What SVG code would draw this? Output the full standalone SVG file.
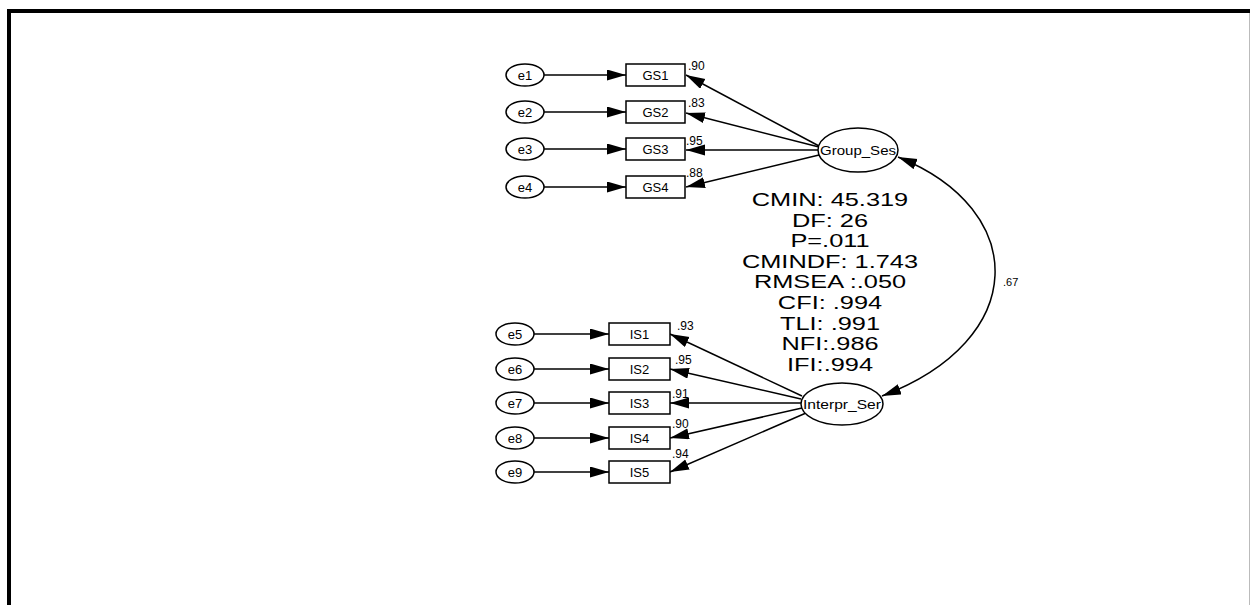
<svg xmlns="http://www.w3.org/2000/svg" width="1250" height="605" viewBox="0 0 1250 605">
<style>
.bg{fill:#fff}
.box{fill:#fff;stroke:#000;stroke-width:1.5}
.ell{fill:#fff;stroke:#000;stroke-width:1.5}
.lbl{font-family:"Liberation Sans",Arial,sans-serif;font-size:13px;fill:#000;text-anchor:middle;dominant-baseline:central}
.lat{font-family:"Liberation Sans",Arial,sans-serif;font-size:13px;fill:#000;text-anchor:middle;dominant-baseline:central}
.w{font-family:"Liberation Sans",Arial,sans-serif;font-size:12px;fill:#000}
.stat{font-family:"Liberation Sans",Arial,sans-serif;font-size:17.5px;fill:#000;text-anchor:middle}
.edge{fill:none;stroke:#000;stroke-width:1.5;marker-end:url(#ah)}
</style>
<defs>
<marker id="ah" markerUnits="userSpaceOnUse" markerWidth="22" markerHeight="12" refX="19" refY="5.5" orient="auto">
<path d="M0,0 L19,5.5 L0,11 z" fill="#000"/>
</marker>
<marker id="ah2" markerUnits="userSpaceOnUse" markerWidth="22" markerHeight="12" refX="19" refY="5.5" orient="auto-start-reverse">
<path d="M0,0 L19,5.5 L0,11 z" fill="#000"/>
</marker>
</defs>
<rect class="bg" x="0" y="0" width="1250" height="605"/>
<g id="frame">
<path d="M7,11 H1250" stroke="#000" stroke-width="4" fill="none"/>
<path d="M9,9 V605" stroke="#000" stroke-width="4" fill="none"/>
<path d="M1249.5,13 V605" stroke="#bbb" stroke-width="1" fill="none"/>
</g>
<g id="connectors">
<path class="edge" d="M544,75 H626"/>
<path class="edge" d="M544,112 H626"/>
<path class="edge" d="M544,149 H626"/>
<path class="edge" d="M544,187 H626"/>
<path class="edge" d="M819,146 L686,75"/>
<path class="edge" d="M819,147 L686,113"/>
<path class="edge" d="M818,150 H686"/>
<path class="edge" d="M819,155 L686,187"/>
<path class="edge" d="M534,334 H609"/>
<path class="edge" d="M534,369 H609"/>
<path class="edge" d="M534,403 H609"/>
<path class="edge" d="M534,438 H609"/>
<path class="edge" d="M534,472 H609"/>
<path class="edge" d="M802,396 L670,334"/>
<path class="edge" d="M801,399 L670,369"/>
<path class="edge" d="M801,403 H670"/>
<path class="edge" d="M802,408 L670,438"/>
<path class="edge" d="M806,413 L670,472"/>
<path d="M898,157 C1030,210 1030,340 882,396" fill="none" stroke="#000" stroke-width="1.5" marker-start="url(#ah2)" marker-end="url(#ah2)"/>
<text class="w" x="688" y="70">.90</text>
<text class="w" x="688" y="107">.83</text>
<text class="w" x="686" y="145">.95</text>
<text class="w" x="686" y="177">.88</text>
<text class="w" x="677" y="330">.93</text>
<text class="w" x="675" y="364">.95</text>
<text class="w" x="672" y="398">.91</text>
<text class="w" x="672" y="428">.90</text>
<text class="w" x="672" y="458">.94</text>
<text class="w" x="1003" y="286" style="font-size:11px">.67</text>
</g>
<g id="e1"><ellipse class="ell" cx="525" cy="75" rx="19" ry="11"/><text class="lbl" x="525" y="75">e1</text></g>
<g id="e2"><ellipse class="ell" cx="525" cy="112" rx="19" ry="11"/><text class="lbl" x="525" y="112">e2</text></g>
<g id="e3"><ellipse class="ell" cx="525" cy="149" rx="19" ry="11"/><text class="lbl" x="525" y="149">e3</text></g>
<g id="e4"><ellipse class="ell" cx="525" cy="187" rx="19" ry="11"/><text class="lbl" x="525" y="187">e4</text></g>
<g id="GS1"><rect class="box" x="626" y="64" width="59" height="22"/><text class="lbl" x="655.5" y="75">GS1</text></g>
<g id="GS2"><rect class="box" x="626" y="101" width="59" height="22"/><text class="lbl" x="655.5" y="112">GS2</text></g>
<g id="GS3"><rect class="box" x="626" y="138" width="59" height="22"/><text class="lbl" x="655.5" y="149">GS3</text></g>
<g id="GS4"><rect class="box" x="626" y="176" width="59" height="22"/><text class="lbl" x="655.5" y="187">GS4</text></g>
<g id="Group_Ses"><ellipse class="ell" cx="858" cy="150" rx="40" ry="22"/><text class="lat" x="858" y="150" textLength="76" lengthAdjust="spacingAndGlyphs">Group_Ses</text></g>
<g id="e5"><ellipse class="ell" cx="515" cy="334" rx="19" ry="11"/><text class="lbl" x="515" y="334">e5</text></g>
<g id="e6"><ellipse class="ell" cx="515" cy="369" rx="19" ry="11"/><text class="lbl" x="515" y="369">e6</text></g>
<g id="e7"><ellipse class="ell" cx="515" cy="403" rx="19" ry="11"/><text class="lbl" x="515" y="403">e7</text></g>
<g id="e8"><ellipse class="ell" cx="515" cy="438" rx="19" ry="11"/><text class="lbl" x="515" y="438">e8</text></g>
<g id="e9"><ellipse class="ell" cx="515" cy="472" rx="19" ry="11"/><text class="lbl" x="515" y="472">e9</text></g>
<g id="IS1"><rect class="box" x="609" y="323" width="61" height="22"/><text class="lbl" x="639.5" y="334">IS1</text></g>
<g id="IS2"><rect class="box" x="609" y="358" width="61" height="22"/><text class="lbl" x="639.5" y="369">IS2</text></g>
<g id="IS3"><rect class="box" x="609" y="392" width="61" height="22"/><text class="lbl" x="639.5" y="403">IS3</text></g>
<g id="IS4"><rect class="box" x="609" y="427" width="61" height="22"/><text class="lbl" x="639.5" y="438">IS4</text></g>
<g id="IS5"><rect class="box" x="609" y="461" width="61" height="22"/><text class="lbl" x="639.5" y="472">IS5</text></g>
<g id="Interpr_Ser"><ellipse class="ell" cx="842" cy="404" rx="41" ry="21"/><text class="lat" x="842" y="404" textLength="78" lengthAdjust="spacingAndGlyphs">Interpr_Ser</text></g>
<g id="fit_stats" transform="translate(830 0) scale(1.45 1)">
<text class="stat" x="0" y="206">CMIN: 45.319</text>
<text class="stat" x="0" y="226.6">DF: 26</text>
<text class="stat" x="0" y="247.2">P=.011</text>
<text class="stat" x="0" y="267.8">CMINDF: 1.743</text>
<text class="stat" x="0" y="288.4">RMSEA :.050</text>
<text class="stat" x="0" y="309">CFI: .994</text>
<text class="stat" x="0" y="329.6">TLI: .991</text>
<text class="stat" x="0" y="350.2">NFI:.986</text>
<text class="stat" x="0" y="370.8">IFI:.994</text>
</g>
</svg>
